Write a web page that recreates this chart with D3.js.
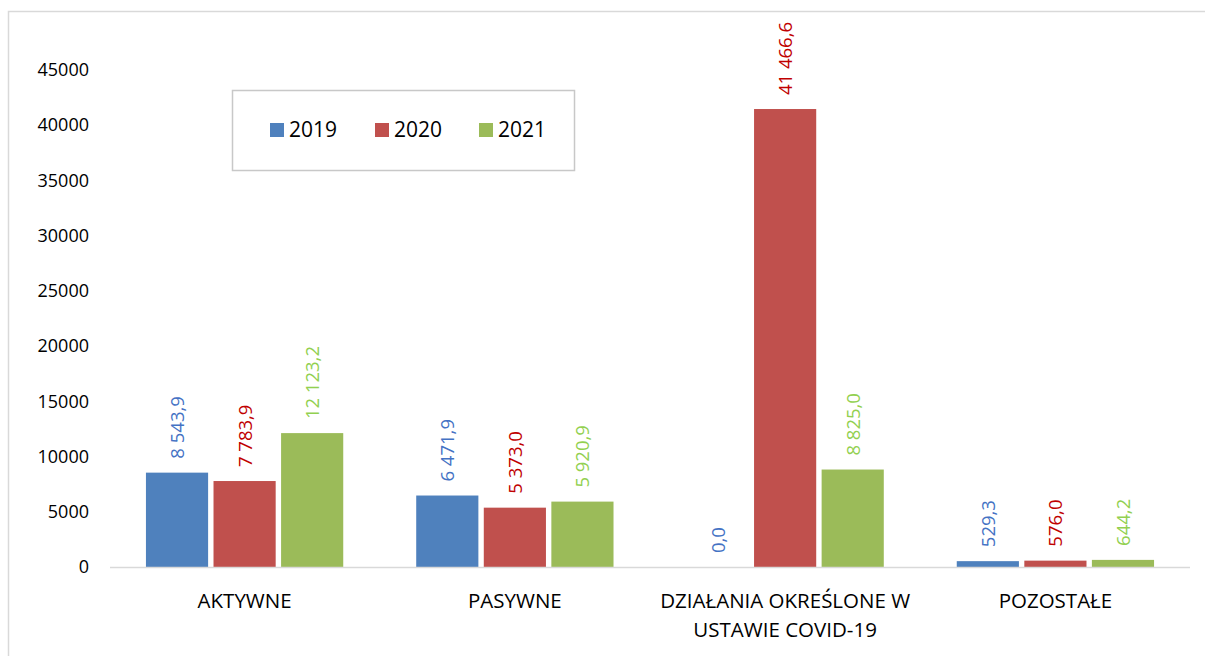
<!DOCTYPE html>
<html>
<head>
<meta charset="utf-8">
<script src="https://cdn.jsdelivr.net/npm/d3@7"></script>
<style>
  body { margin: 0; background: #fff; }
  text { font-family: "Open Sans", sans-serif; }
</style>
</head>
<body>
<div id="chart"></div>
<script>
// data
var categories = ['AKTYWNE', 'PASYWNE', 'DZIAŁANIA OKREŚLONE W|USTAWIE COVID-19', 'POZOSTAŁE'];
var years = ['2019', '2020', '2021'];
var values2019 = [8543.9, 6471.9, 0.0, 529.3];
var values2020 = [7783.9, 5373.0, 41466.6, 576.0];
var values2021 = [12123.2, 5920.9, 8825.0, 644.2];
var yTicks = [0, 5000, 10000, 15000, 20000, 25000, 30000, 35000, 40000, 45000];

var barColors = ['#4F81BD', '#C0504D', '#9BBB59'];
var labelColors = ['#4472C4', '#C00000', '#92D050'];

var W = 1205, H = 656;
var margin = { top: 70, left: 110, right: 15, bottom: 89 };
var width = 1190 - margin.left, height = 567 - margin.top;

var series = [values2019, values2020, values2021];
var rows = categories.map(function (c, i) {
  return { cat: c, vals: series.map(function (s, j) { return { year: years[j], j: j, v: s[i] }; }) };
});

var svg = d3.select('#chart').append('svg')
  .attr('width', W).attr('height', H);

// outer frame
svg.append('rect')
  .attr('x', 8.5).attr('y', 11.5)
  .attr('width', 1230).attr('height', 700)
  .attr('fill', 'none').attr('stroke', '#d9d9d9').attr('stroke-width', 1.5);

var g = svg.append('g').attr('transform', 'translate(' + margin.left + ',' + margin.top + ')');

var y = d3.scaleLinear().domain([0, 45000]).range([height, 0]);
var x0 = d3.scaleBand().domain(categories).range([0, width]).paddingInner(0.27).paddingOuter(0.133);
var x1 = d3.scaleBand().domain(years).range([0, x0.bandwidth()]).paddingInner(0.08).paddingOuter(0);

// y axis labels
var yAxis = d3.axisLeft(y).tickValues(yTicks).tickSize(0).tickPadding(21).tickFormat(d3.format('d'));
g.append('g').call(yAxis)
  .call(function (s) { s.select('.domain').remove(); })
  .selectAll('text')
  .style('font-size', '18px').attr('fill', '#000');

// bars
var groups = g.selectAll('.grp').data(rows).enter().append('g')
  .attr('transform', function (d) { return 'translate(' + x0(d.cat) + ',0)'; });

groups.selectAll('rect').data(function (d) { return d.vals; }).enter().append('rect')
  .attr('x', function (d) { return x1(d.year); })
  .attr('y', function (d) { return y(d.v); })
  .attr('width', x1.bandwidth())
  .attr('height', function (d) { return height - y(d.v); })
  .attr('fill', function (d) { return barColors[d.j]; });

// value labels
groups.selectAll('.lbl').data(function (d) { return d.vals; }).enter().append('text')
  .attr('transform', function (d) {
    return 'translate(' + (x1(d.year) + x1.bandwidth() / 2 + 7) + ',' + (y(d.v) - 14) + ') rotate(-90)';
  })
  .attr('text-anchor', 'start')
  .style('font-size', '18.5px')
  .attr('fill', function (d) { return labelColors[d.j]; })
  .text(function (d) { return d3.format(',.1f')(d.v).replace(/,/g, ' ').replace('.', ','); });

// baseline
g.append('line')
  .attr('x1', 0).attr('x2', width)
  .attr('y1', height + 0.5).attr('y2', height + 0.5)
  .attr('stroke', '#d9d9d9').attr('stroke-width', 1.5);

// category labels
var xAxis = d3.axisBottom(x0).tickSize(0).tickPadding(0).tickFormat('');
var xa = g.append('g').attr('transform', 'translate(0,' + height + ')').call(xAxis);
xa.select('.domain').remove();
xa.selectAll('.tick').each(function (d) {
  var lines = d.split('|');
  var t = d3.select(this).append('text')
    .attr('text-anchor', 'middle')
    .attr('fill', '#000')
    .style('font-size', '20.5px');
  lines.forEach(function (l, i) {
    t.append('tspan').attr('x', 0).attr('y', 41 + i * 29).text(l);
  });
});

// legend
var legend = svg.append('g');
legend.append('rect')
  .attr('x', 232.5).attr('y', 90.5).attr('width', 342).attr('height', 80)
  .attr('fill', '#fff').attr('stroke', '#c8c8c8').attr('stroke-width', 1.5);
var legX = [270, 375, 479];
years.forEach(function (yr, i) {
  legend.append('rect')
    .attr('x', legX[i]).attr('y', 123).attr('width', 14).attr('height', 14)
    .attr('fill', barColors[i]);
  legend.append('text')
    .attr('x', legX[i] + 19).attr('y', 137)
    .style('font-size', '21px').attr('fill', '#000')
    .text(yr);
});
</script>
</body>
</html>
